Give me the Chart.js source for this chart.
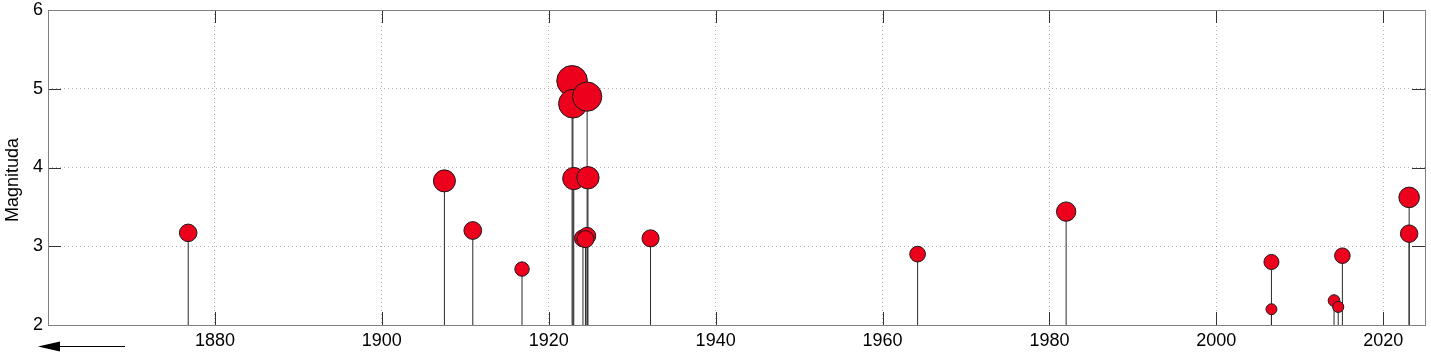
<!DOCTYPE html>
<html>
<head>
<meta charset="utf-8">
<script src="https://cdn.jsdelivr.net/npm/chart.js@4.4.0/dist/chart.umd.min.js"></script>
<style>
    html, body { margin: 0; padding: 0; background: #fff; }
</style>
</head>
<body>
<canvas id="myChart" width="1431" height="355"></canvas>
<script>
"use strict";

// ========== DATA ========== //
// year of each event and its magnitude
const _years = [1876.8, 1907.5, 1910.9, 1916.8, 1922.8, 1922.9, 1924.6, 1923.0, 1924.7, 1924.1, 1924.6, 1924.4,
    1932.2, 1964.2, 1982.0, 2006.6, 2006.6, 2014.1, 2014.6, 2015.1, 2023.1, 2023.1];
const _mags = [3.17, 3.83, 3.20, 2.71, 5.10, 4.81, 4.90, 3.86, 3.87, 3.10, 3.13, 3.09,
    3.10, 2.90, 3.44, 2.80, 2.20, 2.31, 2.23, 2.88, 3.62, 3.16];

const _xTicks = [1880, 1900, 1920, 1940, 1960, 1980, 2000, 2020];
const _yTicks = [2, 3, 4, 5, 6];
const _baseline = 2;
const _yTitle = 'Magnituda';

const _font = "'Liberation Sans', Arial, Helvetica, sans-serif";

// points for the scatter
let pointData = _years.map((yr, i) => ({ x: yr, y: _mags[i] }));

// stems: baseline -> value, then a gap
let stemData = [];
_years.forEach((yr, i) => {
    stemData.push({ x: yr, y: _baseline });
    stemData.push({ x: yr, y: _mags[i] });
    stemData.push({ x: yr, y: null });
});

// no extra padding from the tick labels
function fixScale(scale, size) {
    if (scale.isHorizontal()) {
        scale.height = size;
    } else {
        scale.width = size;
    }
    scale.paddingLeft = 0;
    scale.paddingRight = 0;
    scale.paddingTop = 0;
    scale.paddingBottom = 0;
}

// frame, inward ticks, y title and the arrow under the axis
const frameTicks = {
    id: 'frameTicks',
    afterDatasetsDraw(chart) {
        const ctx = chart.ctx;
        const area = chart.chartArea;
        const xs = chart.scales.x;
        const ys = chart.scales.y;
        const len = 13;
        ctx.save();
        ctx.strokeStyle = '#333';
        ctx.lineWidth = 1;
        ctx.beginPath();
        _xTicks.forEach(v => {
            let px = Math.round(xs.getPixelForValue(v)) + 0.5;
            ctx.moveTo(px, area.bottom);
            ctx.lineTo(px, area.bottom - len);
            ctx.moveTo(px, area.top);
            ctx.lineTo(px, area.top + len);
        });
        _yTicks.forEach(v => {
            let py = Math.round(ys.getPixelForValue(v)) + 0.5;
            ctx.moveTo(area.left, py);
            ctx.lineTo(area.left + len, py);
            ctx.moveTo(area.right, py);
            ctx.lineTo(area.right - len, py);
        });
        ctx.stroke();

        ctx.strokeStyle = '#808080';
        ctx.strokeRect(Math.round(area.left) + 0.5, Math.round(area.top) + 0.5,
            Math.round(area.right - area.left), Math.round(area.bottom - area.top));

        // y title
        ctx.fillStyle = '#000';
        ctx.font = "18px " + _font;
        ctx.textAlign = 'center';
        ctx.textBaseline = 'middle';
        ctx.translate(13, 180);
        ctx.rotate(-Math.PI / 2);
        ctx.fillText(_yTitle, 0, 0);
        ctx.setTransform(1, 0, 0, 1, 0, 0);

        // arrow
        ctx.strokeStyle = '#000';
        ctx.beginPath();
        ctx.moveTo(125, 346.5);
        ctx.lineTo(55, 346.5);
        ctx.stroke();
        ctx.beginPath();
        ctx.moveTo(38, 346.5);
        ctx.lineTo(60, 341.5);
        ctx.lineTo(60, 351.5);
        ctx.closePath();
        ctx.fill();
        ctx.restore();
    }
};

let chartContainer = document.querySelector('#myChart');
let chart = new Chart(chartContainer, {
    type: 'scatter',
    data: {
        datasets: [{
            data: pointData,
            order: 0,
            backgroundColor: '#ec001c',
            borderColor: '#1a1a1a',
            borderWidth: 1,
            pointRadius: ctx => 3.4 * ctx.raw.y - 2,
            pointHoverRadius: ctx => 3.4 * ctx.raw.y - 2,
        }, {
            data: stemData,
            order: 1,
            showLine: true,
            spanGaps: false,
            pointRadius: 0,
            borderColor: '#2a2a2a',
            borderWidth: 1,
        }]
    },
    options: {
        responsive: false,
        animation: false,
        events: [],
        layout: {
            autoPadding: false,
            padding: { top: 10, right: 6, left: 0, bottom: 0 }
        },
        plugins: {
            legend: { display: false },
            tooltip: { enabled: false }
        },
        scales: {
            x: {
                type: 'linear',
                min: 1860,
                max: 2025,
                afterBuildTicks: scale => { scale.ticks = _xTicks.map(v => ({ value: v })); },
                afterFit: scale => fixScale(scale, 30),
                grid: { color: 'rgba(0,0,0,0.3)', drawTicks: false },
                border: { display: false, dash: [1, 3] },
                ticks: {
                    padding: 5,
                    color: '#000',
                    font: { family: _font, size: 18 },
                    maxRotation: 0,
                    callback: v => String(v)
                }
            },
            y: {
                min: 2,
                max: 6,
                afterBuildTicks: scale => { scale.ticks = _yTicks.map(v => ({ value: v })); },
                afterFit: scale => fixScale(scale, 48),
                grid: { color: 'rgba(0,0,0,0.3)', drawTicks: false },
                border: { display: false, dash: [1, 3] },
                ticks: {
                    padding: 5,
                    color: '#000',
                    font: { family: _font, size: 18 },
                    callback: v => String(v)
                }
            }
        }
    },
    plugins: [frameTicks]
});
</script>
</body>
</html>
